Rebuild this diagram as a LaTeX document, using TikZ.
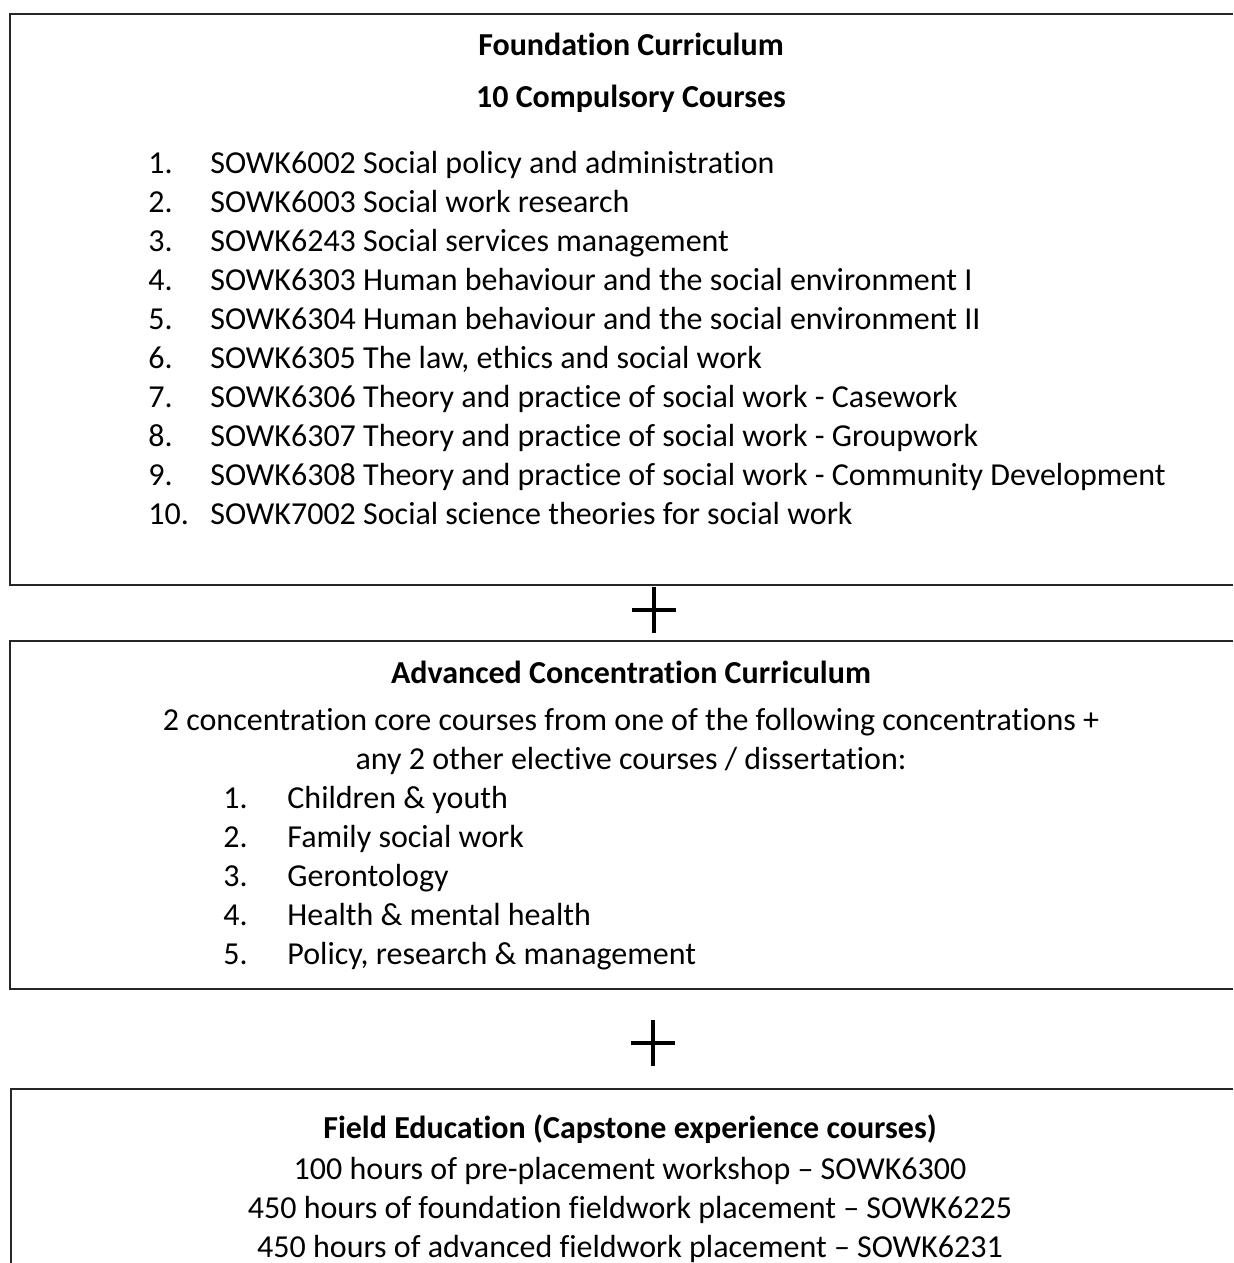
\documentclass[tikz,border=0pt]{standalone}
\usepackage{fontspec}
\setmainfont[Ligatures=NoCommon]{Carlito}
\usetikzlibrary{calc}

\begin{document}
\begin{tikzpicture}
[x=0.5pt,y=-0.5pt,box/.style={draw=black!85,line width=1pt},plus/.style={line width=1.7pt},
txt/.style={inner sep=0pt,font=\fontsize{16}{19}\selectfont},
head/.style={txt,anchor=base,font=\fontsize{16}{19}\selectfont\bfseries},
num/.style={txt,anchor=base west},]

\useasboundingbox (0,0) rectangle (1233,1263);

% foundation box
\draw[box] (1233,14) -- (10,14) -- (10,585) -- (1233,585);
\node (F) at (631,56)[head]{Foundation Curriculum};
\node (Fsub) at (631,108)[head]{10 Compulsory Courses};
\def\gap{39.1}
\node (n1) at (148,173)[num]{1.};
\node (c1) at (210,173)[num]{SOWK6002 Social policy and administration};
\node (n2) at (148,173+\gap)[num]{2.};
\node (c2) at (210,173+\gap)[num]{SOWK6003 Social work research};
\node (n3) at (148,173+2*\gap)[num]{3.};
\node (c3) at (210,173+2*\gap)[num]{SOWK6243 Social services management};
\node (n4) at (148,173+3*\gap)[num]{4.};
\node (c4) at (210,173+3*\gap)[num]{SOWK6303 Human behaviour and the social environment I};
\node (n5) at (148,173+4*\gap)[num]{5.};
\node (c5) at (210,173+4*\gap)[num]{SOWK6304 Human behaviour and the social environment II};
\node (n6) at (148,173+5*\gap)[num]{6.};
\node (c6) at (210,173+5*\gap)[num]{SOWK6305 The law, ethics and social work};
\node (n7) at (148,173+6*\gap)[num]{7.};
\node (c7) at (210,173+6*\gap)[num]{SOWK6306 Theory and practice of social work - Casework};
\node (n8) at (148,173+7*\gap)[num]{8.};
\node (c8) at (210,173+7*\gap)[num]{SOWK6307 Theory and practice of social work - Groupwork};
\node (n9) at (148,173+8*\gap)[num]{9.};
\node (c9) at (210,173+8*\gap)[num]{SOWK6308 Theory and practice of social work - Community Development};
\node (n10) at (148,173+9*\gap)[num]{10.};
\node (c10) at (210,173+9*\gap)[num]{SOWK7002 Social science theories for social work};

% first plus
\coordinate (P1) at (654,610);
\draw[plus] ($(P1)+(-22,0)$) -- ($(P1)+(22,0)$);
\draw[plus] ($(P1)+(0,-23)$) -- ($(P1)+(0,23)$);

% advanced box
\draw[box] (1233,641) -- (10,641) -- (10,989) -- (1233,989);
\node (A) at (631,683)[head]{Advanced Concentration Curriculum};
\node (Aa) at (631,730)[txt,anchor=base]{2 concentration core courses from one of the following concentrations +};
\node (Ab) at (631,769)[txt,anchor=base]{any 2 other elective courses / dissertation:};
\node (m1) at (223,808)[num]{1.};
\node (k1) at (287,808)[num]{Children \& youth};
\node (m2) at (223,808+\gap)[num]{2.};
\node (k2) at (287,808+\gap)[num]{Family social work};
\node (m3) at (223,808+2*\gap)[num]{3.};
\node (k3) at (287,808+2*\gap)[num]{Gerontology};
\node (m4) at (223,808+3*\gap)[num]{4.};
\node (k4) at (287,808+3*\gap)[num]{Health \& mental health};
\node (m5) at (223,808+4*\gap)[num]{5.};
\node (k5) at (287,808+4*\gap)[num]{Policy, research \& management};

% second plus
\coordinate (P2) at (653,1043);
\draw[plus] ($(P2)+(-22,0)$) -- ($(P2)+(22,0)$);
\draw[plus] ($(P2)+(0,-23)$) -- ($(P2)+(0,23)$);

% field box
\draw[box] (1233,1089) -- (11,1089) -- (11,1263);
\node (E) at (630,1138)[head]{Field Education (Capstone experience courses)};
\node (e1) at (630,1179)[txt,anchor=base]{100 hours of pre-placement workshop – SOWK6300};
\node (e2) at (630,1179+\gap)[txt,anchor=base]{450 hours of foundation fieldwork placement – SOWK6225};
\node (e3) at (630,1179+2*\gap)[txt,anchor=base]{450 hours of advanced fieldwork placement – SOWK6231};

\end{tikzpicture}
\end{document}
